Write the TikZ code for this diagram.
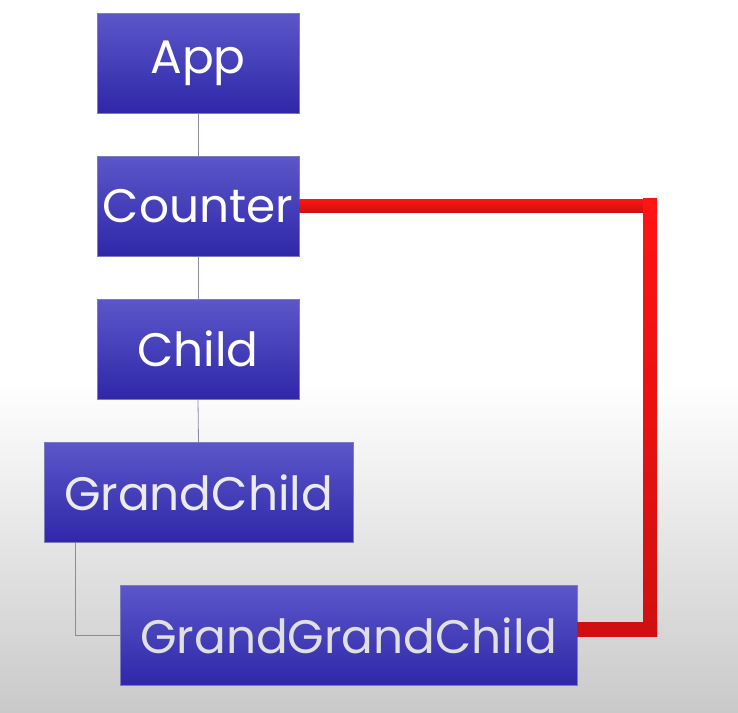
\documentclass[tikz,border=0pt]{standalone}
\usepackage{fontspec}
\setmainfont{Poppins}
\usetikzlibrary{calc}
\definecolor{boxtop}{HTML}{5B57C9}
\definecolor{boxbot}{HTML}{2F27A9}
\definecolor{boxline}{HTML}{7C7AC0}
\definecolor{treeline}{HTML}{8A8AA0}
\definecolor{redtop}{HTML}{FF1414}
\definecolor{redbot}{HTML}{D01010}
\tikzset{
  comp/.style={rectangle, top color=boxtop, bottom color=boxbot, draw=boxline, line width=0.6pt,
    minimum height=100pt, inner sep=0pt, text=white, font=\fontsize{47}{50}\selectfont},
  tree/.style={draw=treeline, line width=0.8pt},
}
\begin{document}
\begin{tikzpicture}[x=1pt,y=-1pt]
\shade[top color=white, bottom color=white] (0,0) rectangle (738,380);
\shade[top color=white, bottom color=black!21] (0,380) rectangle (738,712);
\useasboundingbox (0,0) rectangle (738,712);
\node[comp, minimum width=202pt] (app) at (198,63) {App};
\node[comp, minimum width=202pt] (counter) at (198,206) {Counter};
\node[comp, minimum width=202pt] (child) at (198,349) {Child};
\node[comp, minimum width=309pt, text=white!92!black] (gc) at (198.5,492.5) {GrandChild};
\node[comp, minimum width=457pt, text=white!88!black] (ggc) at (348.5,635.5) {GrandGrandChild};
\draw[tree] (app.south) -- (counter.north);
\draw[tree] (counter.south) -- (child.north);
\draw[tree] (child.south) -- (gc.north);
\draw[tree] (gc.south -| 75,0) |- (ggc.west);
\coordinate (rc) at (650,205);
\coordinate (rb) at (650,629);
\shade[top color=redtop, bottom color=redbot] ($(counter.east)+(0,-7)$) rectangle (657,212);
\shade[top color=redtop, bottom color=redbot] (643,198) rectangle (657,636);
\shade[top color=redbot, bottom color=redbot] (577,622) rectangle (657,636);
\draw[draw=none] (counter.east) -- (rc) -- (rb) -- (ggc.east |- rb);
\end{tikzpicture}
\end{document}
